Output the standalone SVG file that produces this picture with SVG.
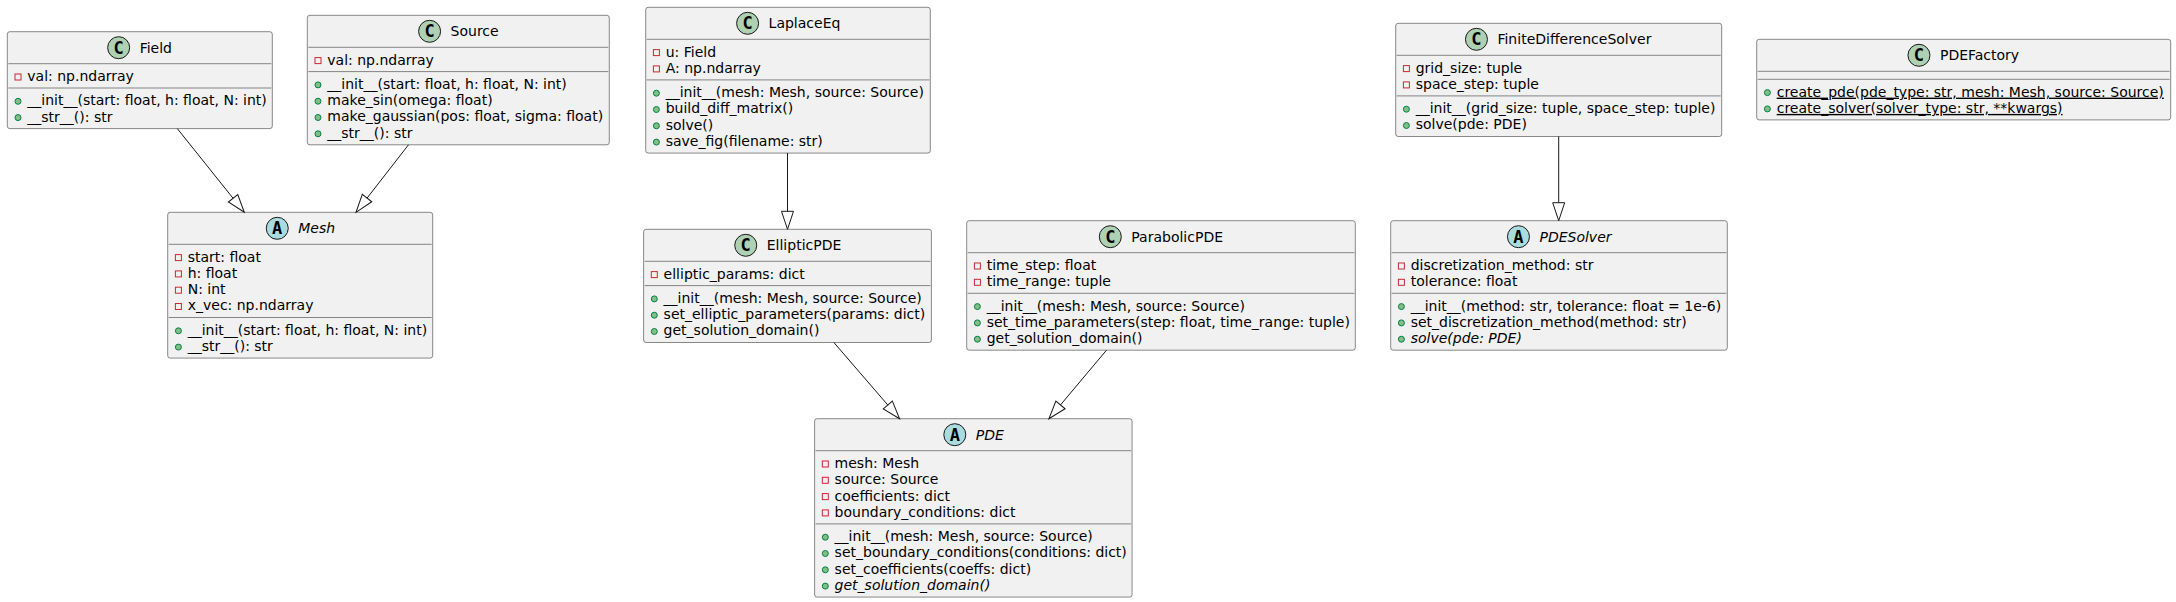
<svg xmlns="http://www.w3.org/2000/svg" width="2176" height="602" viewBox="0 0 2176 602">
<style>
.box{fill:#F1F1F1;stroke:#181818;stroke-width:0.5}
.sep{stroke:#181818;stroke-width:0.5}
.cc{fill:#ADD1B2;stroke:#181818;stroke-width:1}
.ca{fill:#A9DCDF;stroke:#181818;stroke-width:1}
.ltr{font-family:"DejaVu Sans Mono",monospace;font-weight:bold;font-size:17px;text-anchor:middle;fill:#000}
text.t{font-family:"DejaVu Sans",sans-serif;font-size:14px;fill:#000}
.it{font-style:italic}
.ul{text-decoration:underline}
.pv{fill:none;stroke:#C82930;stroke-width:1}
.pb{fill:#84BE84;stroke:#038048;stroke-width:1}
.edge{stroke:#181818;stroke-width:1;fill:none;marker-end:url(#ext)}
</style>
<defs>
<marker id="ext" markerUnits="userSpaceOnUse" markerWidth="20" markerHeight="14" viewBox="-1 0 20 14" refX="0" refY="7" orient="auto" overflow="visible">
<path d="M0,1 L18,7 L0,13 Z" fill="none" stroke="#181818" stroke-width="1"/>
</marker>
</defs>
<rect width="2176" height="602" fill="#FFFFFF"/>

<g id="Field" transform="translate(7.3,31.7)">
<rect class="box" x="0" y="0" width="265" height="96.9" rx="2.5"/>
<circle class="cc" cx="111.35" cy="16" r="11"/><text class="ltr" x="111.35" y="22.2">C</text>
<text class="t" x="132.35" y="21">Field</text>
<line class="sep" x1="1" x2="264" y1="32" y2="32"/>
<rect class="pv" x="7.7" y="42.3" width="6" height="6"/><text class="t" x="20" y="49.3">val: np.ndarray</text>
<line class="sep" x1="1" x2="264" y1="56.3" y2="56.3"/>
<circle class="pb" cx="10.7" cy="69.6" r="3"/><text class="t" x="20" y="73.6">__init__(start: float, h: float, N: int)</text>
<circle class="pb" cx="10.7" cy="85.9" r="3"/><text class="t" x="20" y="89.9">__str__(): str</text>
</g>

<g id="Source" transform="translate(307.3,15.3)">
<rect class="box" x="0" y="0" width="302" height="129.5" rx="2.5"/>
<circle class="cc" cx="122.3" cy="16" r="11"/><text class="ltr" x="122.3" y="22.2">C</text>
<text class="t" x="143.3" y="21">Source</text>
<line class="sep" x1="1" x2="301" y1="32" y2="32"/>
<rect class="pv" x="7.7" y="42.3" width="6" height="6"/><text class="t" x="20" y="49.3">val: np.ndarray</text>
<line class="sep" x1="1" x2="301" y1="56.3" y2="56.3"/>
<circle class="pb" cx="10.7" cy="69.6" r="3"/><text class="t" x="20" y="73.6">__init__(start: float, h: float, N: int)</text>
<circle class="pb" cx="10.7" cy="85.9" r="3"/><text class="t" x="20" y="89.9">make_sin(omega: float)</text>
<circle class="pb" cx="10.7" cy="102.2" r="3"/><text class="t" x="20" y="106.2">make_gaussian(pos: float, sigma: float)</text>
<circle class="pb" cx="10.7" cy="118.5" r="3"/><text class="t" x="20" y="122.5">__str__(): str</text>
</g>

<g id="Mesh" transform="translate(167.7,212.3)">
<rect class="box" x="0" y="0" width="265" height="145.8" rx="2.5"/>
<circle class="ca" cx="109.55" cy="16" r="11"/><text class="ltr" x="109.55" y="22.2">A</text>
<text class="t it" x="130.55" y="21">Mesh</text>
<line class="sep" x1="1" x2="264" y1="32" y2="32"/>
<rect class="pv" x="7.7" y="42.3" width="6" height="6"/><text class="t" x="20" y="49.3">start: float</text>
<rect class="pv" x="7.7" y="58.6" width="6" height="6"/><text class="t" x="20" y="65.6">h: float</text>
<rect class="pv" x="7.7" y="74.9" width="6" height="6"/><text class="t" x="20" y="81.9">N: int</text>
<rect class="pv" x="7.7" y="91.2" width="6" height="6"/><text class="t" x="20" y="98.2">x_vec: np.ndarray</text>
<line class="sep" x1="1" x2="264" y1="105.2" y2="105.2"/>
<circle class="pb" cx="10.7" cy="118.5" r="3"/><text class="t" x="20" y="122.5">__init__(start: float, h: float, N: int)</text>
<circle class="pb" cx="10.7" cy="134.8" r="3"/><text class="t" x="20" y="138.8">__str__(): str</text>
</g>

<g id="LaplaceEq" transform="translate(645.7,7.3)">
<rect class="box" x="0" y="0" width="284.6" height="145.8" rx="2.5"/>
<circle class="cc" cx="101.9" cy="16" r="11"/><text class="ltr" x="101.9" y="22.2">C</text>
<text class="t" x="122.9" y="21">LaplaceEq</text>
<line class="sep" x1="1" x2="283.6" y1="32" y2="32"/>
<rect class="pv" x="7.7" y="42.3" width="6" height="6"/><text class="t" x="20" y="49.3">u: Field</text>
<rect class="pv" x="7.7" y="58.6" width="6" height="6"/><text class="t" x="20" y="65.6">A: np.ndarray</text>
<line class="sep" x1="1" x2="283.6" y1="72.6" y2="72.6"/>
<circle class="pb" cx="10.7" cy="85.9" r="3"/><text class="t" x="20" y="89.9">__init__(mesh: Mesh, source: Source)</text>
<circle class="pb" cx="10.7" cy="102.2" r="3"/><text class="t" x="20" y="106.2">build_diff_matrix()</text>
<circle class="pb" cx="10.7" cy="118.5" r="3"/><text class="t" x="20" y="122.5">solve()</text>
<circle class="pb" cx="10.7" cy="134.8" r="3"/><text class="t" x="20" y="138.8">save_fig(filename: str)</text>
</g>

<g id="EllipticPDE" transform="translate(643.6,229.3)">
<rect class="box" x="0" y="0" width="287.8" height="113.2" rx="2.5"/>
<circle class="cc" cx="102.15" cy="16" r="11"/><text class="ltr" x="102.15" y="22.2">C</text>
<text class="t" x="123.15" y="21">EllipticPDE</text>
<line class="sep" x1="1" x2="286.8" y1="32" y2="32"/>
<rect class="pv" x="7.7" y="42.3" width="6" height="6"/><text class="t" x="20" y="49.3">elliptic_params: dict</text>
<line class="sep" x1="1" x2="286.8" y1="56.3" y2="56.3"/>
<circle class="pb" cx="10.7" cy="69.6" r="3"/><text class="t" x="20" y="73.6">__init__(mesh: Mesh, source: Source)</text>
<circle class="pb" cx="10.7" cy="85.9" r="3"/><text class="t" x="20" y="89.9">set_elliptic_parameters(params: dict)</text>
<circle class="pb" cx="10.7" cy="102.2" r="3"/><text class="t" x="20" y="106.2">get_solution_domain()</text>
</g>

<g id="ParabolicPDE" transform="translate(966.7,220.7)">
<rect class="box" x="0" y="0" width="388.6" height="129.5" rx="2.5"/>
<circle class="cc" cx="143.6" cy="16" r="11"/><text class="ltr" x="143.6" y="22.2">C</text>
<text class="t" x="164.6" y="21">ParabolicPDE</text>
<line class="sep" x1="1" x2="387.6" y1="32" y2="32"/>
<rect class="pv" x="7.7" y="42.3" width="6" height="6"/><text class="t" x="20" y="49.3">time_step: float</text>
<rect class="pv" x="7.7" y="58.6" width="6" height="6"/><text class="t" x="20" y="65.6">time_range: tuple</text>
<line class="sep" x1="1" x2="387.6" y1="72.6" y2="72.6"/>
<circle class="pb" cx="10.7" cy="85.9" r="3"/><text class="t" x="20" y="89.9">__init__(mesh: Mesh, source: Source)</text>
<circle class="pb" cx="10.7" cy="102.2" r="3"/><text class="t" x="20" y="106.2">set_time_parameters(step: float, time_range: tuple)</text>
<circle class="pb" cx="10.7" cy="118.5" r="3"/><text class="t" x="20" y="122.5">get_solution_domain()</text>
</g>

<g id="PDE" transform="translate(814.6,418.7)">
<rect class="box" x="0" y="0" width="317.5" height="178.4" rx="2.5"/>
<circle class="ca" cx="140.2" cy="16" r="11"/><text class="ltr" x="140.2" y="22.2">A</text>
<text class="t it" x="161.2" y="21">PDE</text>
<line class="sep" x1="1" x2="316.5" y1="32" y2="32"/>
<rect class="pv" x="7.7" y="42.3" width="6" height="6"/><text class="t" x="20" y="49.3">mesh: Mesh</text>
<rect class="pv" x="7.7" y="58.6" width="6" height="6"/><text class="t" x="20" y="65.6">source: Source</text>
<rect class="pv" x="7.7" y="74.9" width="6" height="6"/><text class="t" x="20" y="81.9">coefficients: dict</text>
<rect class="pv" x="7.7" y="91.2" width="6" height="6"/><text class="t" x="20" y="98.2">boundary_conditions: dict</text>
<line class="sep" x1="1" x2="316.5" y1="105.2" y2="105.2"/>
<circle class="pb" cx="10.7" cy="118.5" r="3"/><text class="t" x="20" y="122.5">__init__(mesh: Mesh, source: Source)</text>
<circle class="pb" cx="10.7" cy="134.8" r="3"/><text class="t" x="20" y="138.8">set_boundary_conditions(conditions: dict)</text>
<circle class="pb" cx="10.7" cy="151.1" r="3"/><text class="t" x="20" y="155.1">set_coefficients(coeffs: dict)</text>
<circle class="pb" cx="10.7" cy="167.4" r="3"/><text class="t it" x="20" y="171.4">get_solution_domain()</text>
</g>

<g id="FiniteDifferenceSolver" transform="translate(1395.7,23.3)">
<rect class="box" x="0" y="0" width="326" height="113.2" rx="2.5"/>
<circle class="cc" cx="80.75" cy="16" r="11"/><text class="ltr" x="80.75" y="22.2">C</text>
<text class="t" x="101.75" y="21">FiniteDifferenceSolver</text>
<line class="sep" x1="1" x2="325" y1="32" y2="32"/>
<rect class="pv" x="7.7" y="42.3" width="6" height="6"/><text class="t" x="20" y="49.3">grid_size: tuple</text>
<rect class="pv" x="7.7" y="58.6" width="6" height="6"/><text class="t" x="20" y="65.6">space_step: tuple</text>
<line class="sep" x1="1" x2="325" y1="72.6" y2="72.6"/>
<circle class="pb" cx="10.7" cy="85.9" r="3"/><text class="t" x="20" y="89.9">__init__(grid_size: tuple, space_step: tuple)</text>
<circle class="pb" cx="10.7" cy="102.2" r="3"/><text class="t" x="20" y="106.2">solve(pde: PDE)</text>
</g>

<g id="PDESolver" transform="translate(1390.7,220.7)">
<rect class="box" x="0" y="0" width="336.6" height="129.5" rx="2.5"/>
<circle class="ca" cx="127.75" cy="16" r="11"/><text class="ltr" x="127.75" y="22.2">A</text>
<text class="t it" x="148.75" y="21">PDESolver</text>
<line class="sep" x1="1" x2="335.6" y1="32" y2="32"/>
<rect class="pv" x="7.7" y="42.3" width="6" height="6"/><text class="t" x="20" y="49.3">discretization_method: str</text>
<rect class="pv" x="7.7" y="58.6" width="6" height="6"/><text class="t" x="20" y="65.6">tolerance: float</text>
<line class="sep" x1="1" x2="335.6" y1="72.6" y2="72.6"/>
<circle class="pb" cx="10.7" cy="85.9" r="3"/><text class="t" x="20" y="89.9">__init__(method: str, tolerance: float = 1e-6)</text>
<circle class="pb" cx="10.7" cy="102.2" r="3"/><text class="t" x="20" y="106.2">set_discretization_method(method: str)</text>
<circle class="pb" cx="10.7" cy="118.5" r="3"/><text class="t it" x="20" y="122.5">solve(pde: PDE)</text>
</g>

<g id="PDEFactory" transform="translate(1756.7,39.3)">
<rect class="box" x="0" y="0" width="414" height="80.6" rx="2.5"/>
<circle class="cc" cx="162.25" cy="16" r="11"/><text class="ltr" x="162.25" y="22.2">C</text>
<text class="t" x="183.25" y="21">PDEFactory</text>
<line class="sep" x1="1" x2="413" y1="32" y2="32"/>
<line class="sep" x1="1" x2="413" y1="40" y2="40"/>
<circle class="pb" cx="10.7" cy="53.3" r="3"/><text class="t ul" x="20" y="57.3">create_pde(pde_type: str, mesh: Mesh, source: Source)</text>
<circle class="pb" cx="10.7" cy="69.6" r="3"/><text class="t ul" x="20" y="73.6">create_solver(solver_type: str, **kwargs)</text>
</g>

<g id="connectors">
<line class="edge" x1="177.3" y1="128.6" x2="233.05" y2="198.24"/>
<line class="edge" x1="408.5" y1="144.8" x2="367.05" y2="198.1"/>
<line class="edge" x1="787.5" y1="153.1" x2="787.5" y2="211.3"/>
<line class="edge" x1="833.9" y1="342.5" x2="887.84" y2="405.07"/>
<line class="edge" x1="1106.5" y1="350.2" x2="1060.48" y2="404.92"/>
<line class="edge" x1="1558.7" y1="136.5" x2="1558.7" y2="202.7"/>
</g>
</svg>
